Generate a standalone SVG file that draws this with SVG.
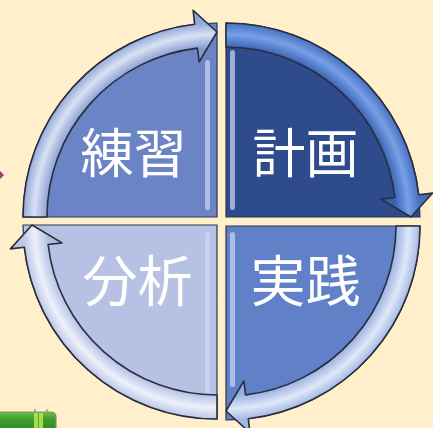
<svg xmlns="http://www.w3.org/2000/svg" width="433" height="428" viewBox="0 0 433 428">
<defs>
<style>
.sec{stroke:#2c3650;stroke-width:1.2}
.arr{stroke:#2a2e3c;stroke-width:1.6;stroke-linejoin:round}
.lbl{font-family:"Noto Sans CJK JP","Noto Sans CJK SC",sans-serif;font-size:53px;fill:#ffffff;text-anchor:middle}
.lbl2{font-size:55px}
.strip{fill:#cbd8f2;opacity:0.7}
</style>
<radialGradient id="bTL" gradientUnits="userSpaceOnUse" cx="0" cy="0" r="210">
<stop offset="0.80" stop-color="#8398cc"/><stop offset="0.81" stop-color="#8ea3d4"/><stop offset="0.87" stop-color="#d8e1f4"/><stop offset="0.924" stop-color="#95aad9"/><stop offset="1" stop-color="#8ea3d4"/>
</radialGradient>
<radialGradient id="bTR" gradientUnits="userSpaceOnUse" cx="0" cy="0" r="210">
<stop offset="0.80" stop-color="#3a60ac"/><stop offset="0.81" stop-color="#3d66b6"/><stop offset="0.87" stop-color="#78a0e8"/><stop offset="0.924" stop-color="#4670c0"/><stop offset="1" stop-color="#3d66b6"/>
</radialGradient>
<radialGradient id="bBR" gradientUnits="userSpaceOnUse" cx="0" cy="0" r="210">
<stop offset="0.80" stop-color="#98aedf"/><stop offset="0.81" stop-color="#9cb2e2"/><stop offset="0.87" stop-color="#dfe8f8"/><stop offset="0.924" stop-color="#a4b8e4"/><stop offset="1" stop-color="#9cb2e2"/>
</radialGradient>
<radialGradient id="bBL" gradientUnits="userSpaceOnUse" cx="0" cy="0" r="210">
<stop offset="0.80" stop-color="#b0bce2"/><stop offset="0.81" stop-color="#b6c2e6"/><stop offset="0.87" stop-color="#eef1fa"/><stop offset="0.924" stop-color="#bcc7e8"/><stop offset="1" stop-color="#b6c2e6"/>
</radialGradient>
<linearGradient id="green" x1="0" y1="0" x2="0" y2="1">
<stop offset="0" stop-color="#6cc04a"/><stop offset="0.4" stop-color="#3f9e2c"/><stop offset="1" stop-color="#2f8a22"/>
</linearGradient>
<path id="sector" d="M0 0 L-194 0 A194 194 0 0 1 0 -194 Z"/>
<path id="arrow" d="M-194 0 A194 194 0 0 1 -22.3 -192.7 L-23.9 -206.6 L0 -185 L-17.9 -155 L-19.5 -168.9 A170 170 0 0 0 -170 0 Z"/>
</defs>
<rect width="433" height="428" fill="#fff0cb"/>

<g id="node-renshu">
<use href="#sector" class="sec" fill="#6a84c6" transform="translate(217,217)"/>
<rect class="strip" x="205" y="60" width="5" height="150" rx="2.5"/>
<g transform="translate(217,217)"><use href="#arrow" class="arr" fill="url(#bTL)"/></g>
<text class="lbl" x="133.5" y="173">練習</text>
</g>

<g id="node-keikaku">
<use href="#sector" class="sec" fill="#2e4c8c" transform="translate(226,217) rotate(90)"/>
<rect class="strip" x="230" y="50" width="5" height="160" rx="2.5" opacity="0.5"/>
<g transform="translate(226,217) rotate(90)"><use href="#arrow" class="arr" fill="url(#bTR)"/></g>
<text class="lbl" x="305.5" y="173">計画</text>
</g>

<g id="node-jissen">
<use href="#sector" class="sec" fill="#6080c8" transform="translate(226,226) rotate(180)"/>
<rect class="strip" x="230" y="232" width="5" height="155" rx="2.5"/>
<g transform="translate(226,226) rotate(180)"><use href="#arrow" class="arr" fill="url(#bBR)"/></g>
<text class="lbl lbl2" x="305.5" y="301">実践</text>
</g>

<g id="node-bunseki">
<use href="#sector" class="sec" fill="#b7c1e3" transform="translate(217,225) rotate(270)"/>
<rect class="strip" x="205" y="232" width="5" height="170" rx="2.5" fill="#e6ecf8"/>
<g transform="translate(217,225) rotate(270)"><use href="#arrow" class="arr" fill="url(#bBL)"/></g>
<text class="lbl lbl2" x="137.5" y="301">分析</text>
</g>

<g id="connectors">
<polygon points="0,171 4,175 0,179" fill="#5a4aa8"/>
<circle cx="1" cy="175" r="1.5" fill="#d03040"/>
</g>

<g id="green-bar">
<path d="M-2 412 L51 412 Q56 412 56 417 L56 430 L-2 430 Z" fill="url(#green)" stroke="#8a8a80" stroke-width="1.2"/>
<rect x="34" y="413" width="9" height="16" fill="#b8e850" opacity="0.85"/>
<line x1="38.5" y1="413" x2="38.5" y2="428" stroke="#5aa830" stroke-width="1"/>
<rect x="34" y="409.5" width="2" height="2" fill="#999"/>
<rect x="46" y="409.5" width="2" height="2" fill="#999"/>
</g>
</svg>
